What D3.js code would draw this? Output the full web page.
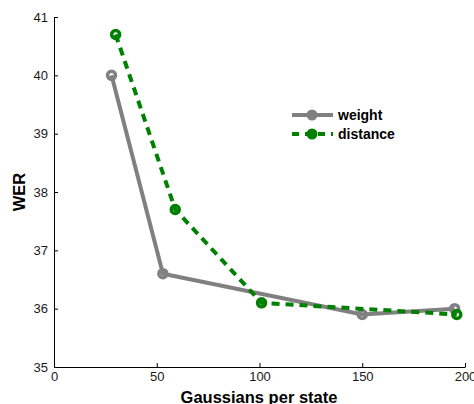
<!DOCTYPE html>
<html><head><meta charset="utf-8">
<script src="https://cdn.jsdelivr.net/npm/d3@7"></script>
<style>body{margin:0;background:#fff}svg{display:block}text{font-family:"Liberation Sans",Arial,sans-serif}</style>
</head><body>
<svg id="c" width="474" height="404"></svg>
<script>
const seriesNames = ["weight", "distance"];
const weightX = [28, 53, 150, 195];
const weightY = [40.0, 36.6, 35.9, 36.0];
const distanceX = [30, 59, 101, 196];
const distanceY = [40.7, 37.7, 36.1, 35.9];
const xTicks = [0, 50, 100, 150, 200];
const yTicks = [35, 36, 37, 38, 39, 40, 41];
const xLabel = "Gaussians per state";
const yLabel = "WER";

const svg = d3.select("#c");
const x = d3.scaleLinear().domain([0, 200]).range([54, 465]);
const y = d3.scaleLinear().domain([35, 41]).range([367, 17]);

// axes (ticks point inward)
const gx = svg.append("g").attr("transform", "translate(0,367)")
  .call(d3.axisBottom(x).tickValues(xTicks).tickFormat(d3.format("d")).tickSizeInner(-4).tickSizeOuter(0).tickPadding(7));
const gy = svg.append("g").attr("transform", "translate(54,0)")
  .call(d3.axisLeft(y).tickValues(yTicks).tickFormat(d3.format("d")).tickSizeInner(-4).tickSizeOuter(0).tickPadding(6));
[gx, gy].forEach(g => {
  g.selectAll("path.domain").attr("stroke", "#000").attr("stroke-width", 1);
  g.selectAll(".tick line").attr("stroke", "#000");
  g.selectAll(".tick text").attr("font-size", 13).attr("fill", "#1a1a1a")
    .attr("font-family", '"Liberation Sans",Arial,sans-serif');
});
gx.selectAll(".tick text").attr("dy", "0.5em");

svg.append("text").attr("x", 259).attr("y", 403).attr("text-anchor", "middle")
  .attr("font-size", 16.5).attr("font-weight", "bold").text(xLabel);
svg.append("text").attr("transform", "translate(25,192) rotate(-90)").attr("text-anchor", "middle")
  .attr("font-size", 16.5).attr("font-weight", "bold").text(yLabel);

const series = [
  {name: seriesNames[0], xs: weightX, ys: weightY, color: "#808080", dash: null},
  {name: seriesNames[1], xs: distanceX, ys: distanceY, color: "#008000", dash: "8,6"}
];
const line = d3.line().x(d => x(d[0])).y(d => y(d[1]));
series.forEach(s => {
  const pts = s.xs.map((v, i) => [v, s.ys[i]]);
  svg.append("path").datum(pts).attr("d", line).attr("fill", "none")
    .attr("stroke", s.color).attr("stroke-width", 4)
    .attr("stroke-dasharray", s.dash);
  svg.append("g").selectAll("circle").data(pts).join("circle")
    .attr("cx", d => x(d[0])).attr("cy", d => y(d[1])).attr("r", 4)
    .attr("fill", "none").attr("stroke", s.color).attr("stroke-width", 3.5);
});

// legend
const leg = svg.append("g");
series.forEach((s, i) => {
  const ly = 115 + i * 19;
  leg.append("line").attr("x1", 292).attr("x2", 333).attr("y1", ly).attr("y2", ly)
    .attr("stroke", s.color).attr("stroke-width", 4).attr("stroke-dasharray", s.dash ? "7,6" : null);
  leg.append("circle").attr("cx", 312).attr("cy", ly).attr("r", 5.5).attr("fill", s.color);
  leg.append("text").attr("x", 338).attr("y", ly + 5).attr("font-size", 14)
    .attr("font-weight", "bold").attr("fill", "#000").text(s.name);
});
</script>
</body></html>
